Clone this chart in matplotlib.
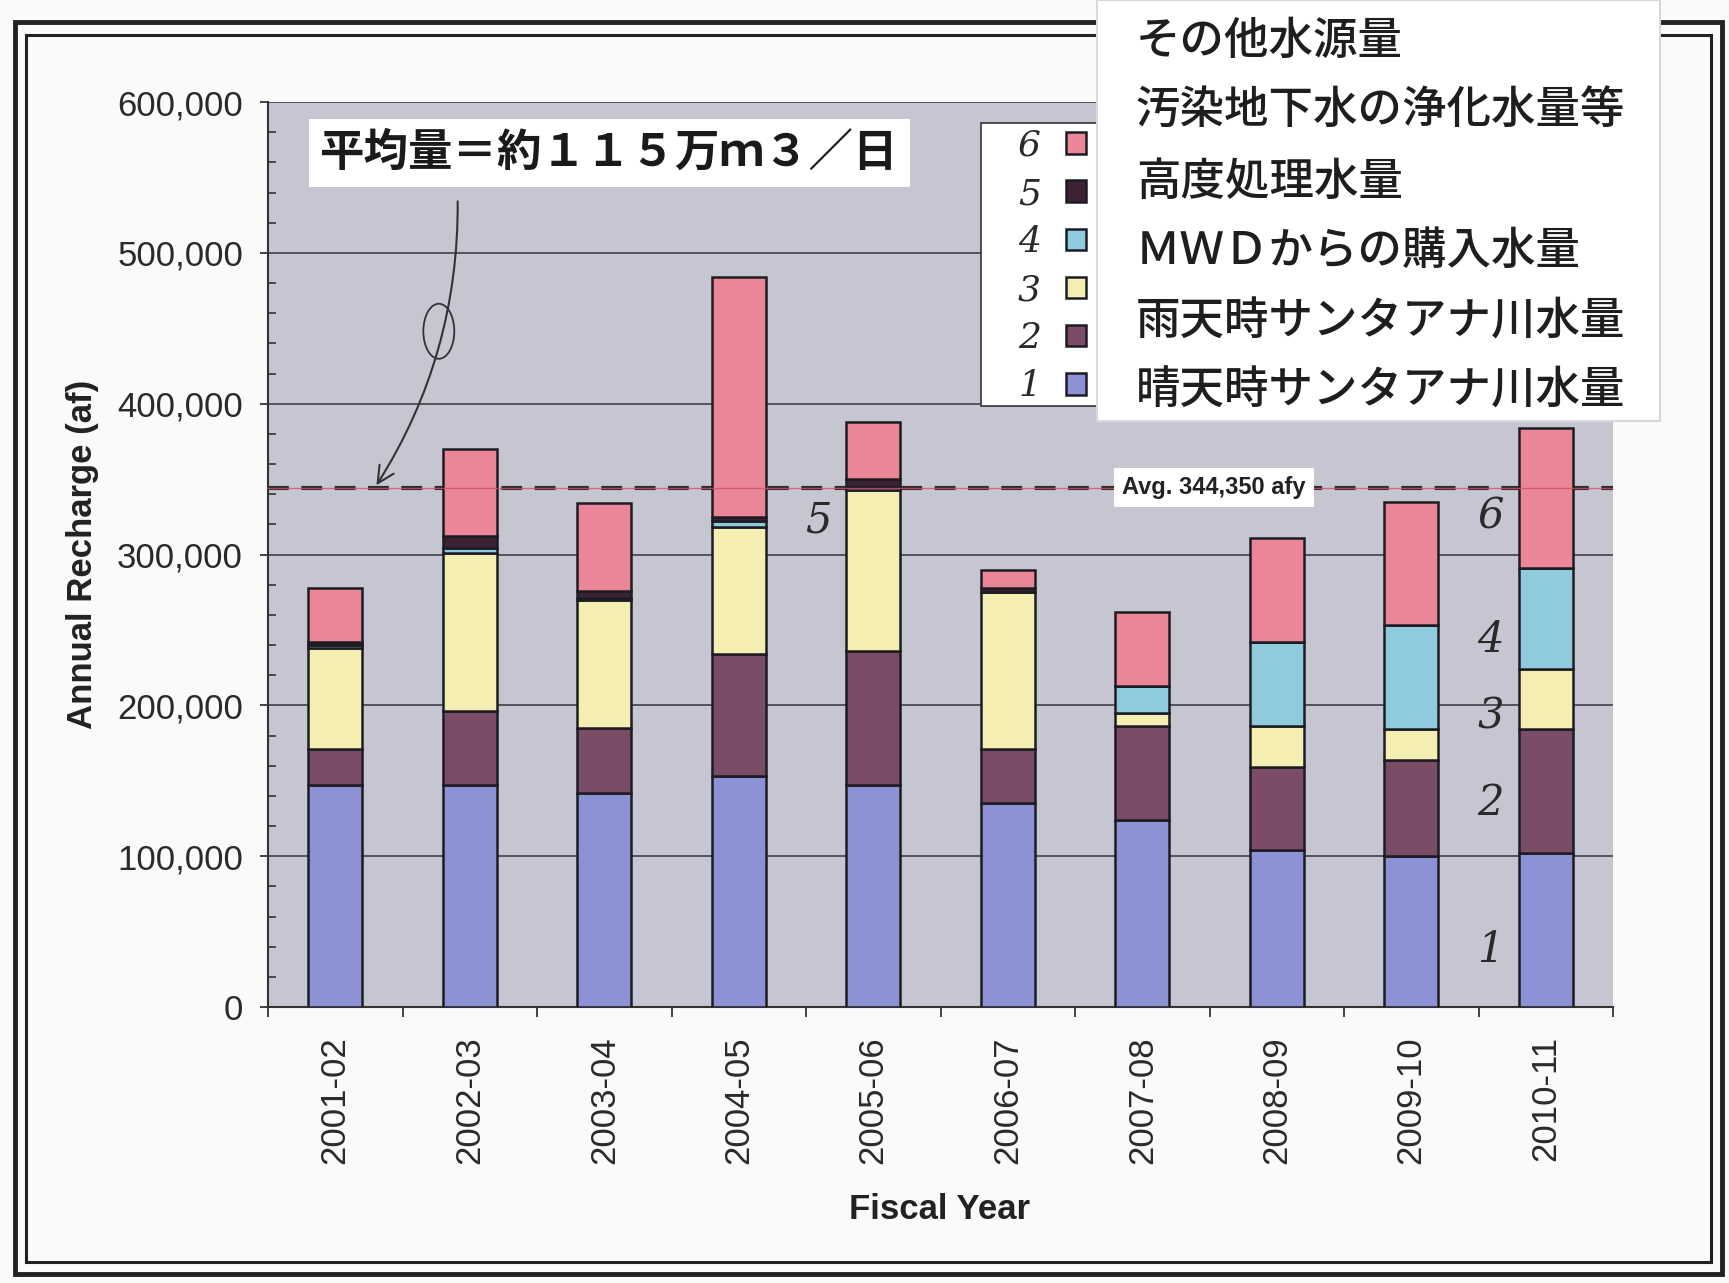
import numpy as np
import matplotlib
matplotlib.use("Agg")
import matplotlib.pyplot as plt
from matplotlib.patches import Rectangle, Ellipse
from matplotlib.ticker import FuncFormatter, MultipleLocator

# ---------------- data ----------------
years = ['2001-02', '2002-03', '2003-04', '2004-05', '2005-06',
         '2006-07', '2007-08', '2008-09', '2009-10', '2010-11']
dry_santa_ana = [147000, 147000, 142000, 153000, 147000, 135000, 124000, 104000, 100000, 102000]
wet_santa_ana = [24000, 49000, 43000, 81000, 89000, 36000, 62000, 55000, 64000, 82000]
wet_yellow = [67000, 105000, 85000, 84000, 107000, 104000, 9000, 27000, 20000, 40000]
mwd_purchase = [2000, 3000, 1000, 4000, 2000, 0, 18000, 56000, 69000, 67000]
advanced_treat = [2000, 8000, 5000, 3000, 5000, 3000, 0, 0, 0, 0]
other_sources = [36000, 58000, 58000, 159000, 38000, 12000, 49000, 69000, 82000, 93000]
avg_value = 344350

series = [dry_santa_ana, wet_santa_ana, wet_yellow, mwd_purchase, advanced_treat, other_sources]
jp_labels = ['その他水源量', '汚染地下水の浄化水量等', '高度処理水量',
             'ＭＷＤからの購入水量', '雨天時サンタアナ川水量', '晴天時サンタアナ川水量']
hand_numbers = ['6', '5', '4', '3', '2', '1']
colors = ['#8d92d6', '#7b4c68', '#f5eeb2', '#8fcbdc', '#3d2233', '#eb8698']

W, H = 1729, 1283
def fx(x): return x / W
def fy(y): return 1 - y / H

fig = plt.figure(figsize=(W / 100, H / 100), dpi=100, facecolor='#fafafb')
ax = fig.add_axes([fx(268), fy(1007), 1345 / W, 905 / H])
ax.set_facecolor('#c6c6d2')

cjk = ['Noto Sans CJK JP', 'DejaVu Sans']
sans = 'Liberation Sans'

x = np.arange(len(years))
bottom = np.zeros(len(years))
containers = []
for s, c in zip(series, colors):
    bc = ax.bar(x, s, bottom=bottom, width=0.4, color=c, edgecolor='#1c1c22',
                linewidth=1.8, zorder=3)
    containers.append(bc)
    bottom += np.array(s)

ax.set_xlim(-0.5, 9.5)
ax.set_ylim(0, 600000)

# average line
ax.axhline(avg_value, color='#2a2a2a', ls=(0, (5, 3)), lw=3, zorder=2)
ax.axhline(avg_value, color='#d0506a', lw=1.0, alpha=0.8, zorder=4)
ax.text(6.53, avg_value, 'Avg. 344,350 afy', ha='center', va='center', fontsize=17,
        fontweight='bold', family=sans, color='#222',
        bbox=dict(facecolor='white', edgecolor='none', pad=6), zorder=5)

# grid and ticks
ax.yaxis.set_major_locator(MultipleLocator(100000))
ax.yaxis.set_minor_locator(MultipleLocator(20000))
ax.yaxis.set_major_formatter(FuncFormatter(lambda v, p: f'{int(v):,}'))
ax.yaxis.grid(True, which='major', color='#4a4a55', lw=1.3)
ax.set_axisbelow(True)
ax.tick_params(axis='y', which='major', direction='out', length=6, width=1.3,
               pad=12, labelsize=25, labelcolor='#2a2a2a', color='#333')
ax.tick_params(axis='y', which='minor', direction='in', length=6, width=1.2, color='#333')
ax.set_xticks(x)
ax.set_xticklabels(years, rotation=90)
ax.set_xticks(np.arange(-0.5, 10, 1), minor=True)
ax.tick_params(axis='x', which='major', length=0, pad=21, labelsize=25, labelcolor='#2a2a2a')
ax.tick_params(axis='x', which='minor', direction='out', length=7, width=1.3, color='#333')
for lab in ax.get_xticklabels() + ax.get_yticklabels():
    lab.set_family(sans)

for sp in ['top', 'right']:
    ax.spines[sp].set_visible(False)
for sp in ['left', 'bottom']:
    ax.spines[sp].set_color('#333')
    ax.spines[sp].set_linewidth(1.5)

ax.set_ylabel('Annual Recharge (af)', fontsize=25, fontweight='bold', family=sans, color='#222')
ax.yaxis.set_label_coords(-0.126, 0.5)
ax.set_xlabel('Fiscal Year', fontsize=25, fontweight='bold', family=sans, color='#222')
ax.xaxis.set_label_coords(0.499, -0.205)

# annotation box and hand-drawn arrow
ax.text(0.254, 0.944, '平均量＝約１１５万ｍ３／日', transform=ax.transAxes, ha='center',
        va='center', fontsize=32, family=cjk, fontweight='bold', color='#1a1a1a',
        bbox=dict(facecolor='white', edgecolor='none', pad=8), zorder=6)
ax.annotate('', xy=(0.295, avg_value), xytext=(0.91, 536000),
            arrowprops=dict(arrowstyle='->', connectionstyle='arc3,rad=-0.15',
                            color='#333', lw=1.5, mutation_scale=30), zorder=6)
ax.add_patch(Ellipse((0.77, 448000), width=0.23, height=36500, fill=False,
                     ec='#333', lw=1.3, zorder=6))

# hand-written numbers
hand_font = dict(family='DejaVu Serif', style='italic', fontsize=30, color='#2a2a2a',
                 ha='center', va='center', zorder=6)
ax.text(3.59, 322500, '5', **hand_font)
for lab, yv in zip(['6', '4', '3', '2', '1'], [325500, 243600, 192400, 135400, 37500]):
    ax.text(8.59, yv, lab, **hand_font)

# small original legend box
ax.add_patch(Rectangle((fx(981), fy(406)), (1103 - 981) / W, (406 - 123) / H,
                       transform=fig.transFigure, facecolor='white', edgecolor='#333',
                       lw=1.2, clip_on=False, zorder=6))
leg = ax.legend(handles=containers[::-1], labels=hand_numbers, markerfirst=False,
                frameon=False, loc='upper left', bbox_to_anchor=(fx(1018), fy(129)),
                bbox_transform=fig.transFigure, borderaxespad=0, borderpad=0,
                handlelength=0.55, handleheight=0.55, handletextpad=0.7,
                labelspacing=0.39,
                prop=dict(family='DejaVu Serif', style='italic', size=26))
leg.set_zorder(7)
for t in leg.get_texts():
    t.set_color('#2a2a2a')

# double frame
fig.patches.append(Rectangle((fx(15), fy(1274)), (1722 - 15) / W, (1274 - 22) / H,
                             transform=fig.transFigure, fill=False, ec='#222', lw=3.5, zorder=5))
fig.patches.append(Rectangle((fx(26), fy(1262)), (1711 - 26) / W, (1262 - 35) / H,
                             transform=fig.transFigure, fill=False, ec='#222', lw=2.2, zorder=5))

# Japanese overlay label box
fig.patches.append(Rectangle((fx(1097), fy(421)), (1660 - 1097) / W, 421 / H,
                             transform=fig.transFigure, facecolor='white', ec='#d8d8dc',
                             lw=1.5, zorder=10))
for lab, yy in zip(jp_labels, [41, 110, 182, 251, 322, 391]):
    fig.text(fx(1136), fy(yy), lab, ha='left', va='center', fontsize=32, family=cjk,
             fontweight='medium', color='#1e1e1e', zorder=11)

fig.savefig('out.png', dpi=100, facecolor=fig.get_facecolor())
